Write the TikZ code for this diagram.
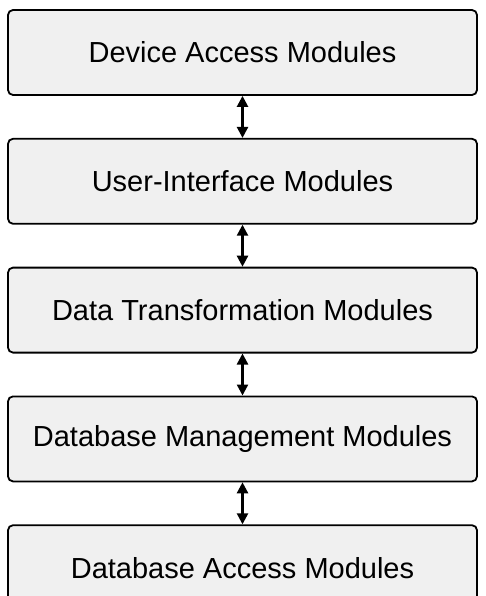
\documentclass[tikz,border=0pt]{standalone}
\usepackage{fontspec}
\setmainfont{Liberation Sans}
\usepackage{tikz}
\usetikzlibrary{positioning, arrows.meta}

\begin{document}
\begin{tikzpicture}[
    x=1pt, y=1pt,
    node distance=42pt,
    module/.style={rectangle, rounded corners=5pt, draw, line width=1.8pt, fill=black!6,
                   minimum width=469pt, minimum height=85pt, inner sep=0pt,
                   font=\fontsize{29}{34}\selectfont},
    arrow/.style={{Triangle[length=11pt, width=11pt]}-{Triangle[length=11pt, width=11pt]}, line width=2.4pt},
]

% Frame
\clip (0, 0) rectangle (485, -596);

% Module layers
\node[module] (device) at (242.5, -52.5) {Device Access Modules};
\node[module, below=of device] (ui) {User-Interface Modules};
\node[module, below=of ui] (transform) {Data Transformation Modules};
\node[module, below=of transform] (dbm) {Database Management Modules};
\node[module, below=of dbm] (dba) {Database Access Modules};

% Links between layers
\draw[arrow] (device) -- (ui);
\draw[arrow] (ui) -- (transform);
\draw[arrow] (transform) -- (dbm);
\draw[arrow] (dbm) -- (dba);

\end{tikzpicture}
\end{document}
